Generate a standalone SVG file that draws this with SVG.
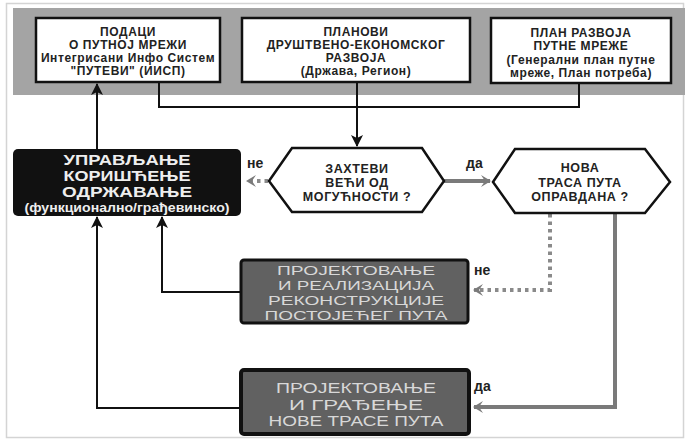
<svg xmlns="http://www.w3.org/2000/svg" width="689" height="441" viewBox="0 0 689 441">
<defs>
<style>
.top{fill:#fff;stroke:#111;stroke-width:2.5}
.tt{font-family:"Liberation Sans",Arial,sans-serif;font-weight:bold;font-size:12px;fill:#222;text-anchor:middle;letter-spacing:0.6px}
.hex{fill:#fff;stroke:#111;stroke-width:2.5}
.ht{font-family:"Liberation Sans",Arial,sans-serif;font-weight:bold;font-size:12.5px;fill:#222;text-anchor:middle;letter-spacing:0.6px}
.bt{font-family:"Liberation Sans",Arial,sans-serif;font-weight:bold;font-size:14.5px;fill:#eee;text-anchor:middle}
.gt{font-family:"Liberation Sans",Arial,sans-serif;font-size:14.5px;fill:#d8d8d8;text-anchor:middle}
.gm{font-size:13.6px}
.lbl{font-family:"Liberation Sans",Arial,sans-serif;font-weight:bold;font-size:14px;fill:#222}
.blk{fill:none;stroke:#111;stroke-width:2}
.gry{fill:none;stroke:#7a7a7a;stroke-width:4}
.dot{fill:none;stroke:#8a8a8a;stroke-width:4;stroke-dasharray:3.5,4}
</style>
<marker id="ab" viewBox="0 0 12 12" refX="11" refY="6" markerWidth="12" markerHeight="12" markerUnits="userSpaceOnUse" orient="auto">
<path d="M0,0 L12,6 L0,12 L3,6 z" fill="#111"/>
</marker>
<marker id="ag" viewBox="0 0 10 12" refX="9" refY="6" markerWidth="10" markerHeight="12" markerUnits="userSpaceOnUse" orient="auto">
<path d="M0,0 L10,6 L0,12 L4,6 z" fill="#7a7a7a"/>
</marker>
</defs>
<rect x="0" y="0" width="689" height="441" fill="#fff"/>
<rect x="6.5" y="3.5" width="677" height="434" fill="none" stroke="#d4d4d4" stroke-width="1.5"/>
<rect x="13" y="8" width="672" height="87" fill="#a4a4a4"/>

<g id="connectors">
<path class="blk" d="M159,83 V107 H579 V83"/>
<path class="blk" d="M357,83 V146" marker-end="url(#ab)"/>
<path class="blk" d="M97,149 V84" marker-end="url(#ab)"/>
<path class="blk" d="M240,292 H162 V217" marker-end="url(#ab)"/>
<path class="blk" d="M240,408 H97 V217" marker-end="url(#ab)"/>
<path class="dot" d="M268,181 H247" marker-end="url(#ag)"/>
<path class="gry" d="M444,181 H490" marker-end="url(#ag)" stroke-width="5"/>
<path class="dot" d="M550,214 V290 H474" marker-end="url(#ag)"/>
<path class="gry" d="M615,214 V407 H474" marker-end="url(#ag)"/>
<text class="lbl" x="247" y="168">не</text>
<text class="lbl" x="466" y="168">да</text>
<text class="lbl" x="474" y="275">не</text>
<text class="lbl" x="474" y="391">да</text>
</g>

<g id="n-podaci">
<rect class="top" x="36" y="18" width="184" height="64"/>
<text class="tt" x="128" y="36">ПОДАЦИ</text>
<text class="tt" x="128" y="49">О ПУТНОЈ МРЕЖИ</text>
<text class="tt" x="128" y="62">Интегрисани Инфо Систем</text>
<text class="tt" x="128" y="75">"ПУТЕВИ" (ИИСП)</text>
</g>

<g id="n-planovi">
<rect class="top" x="242" y="18" width="228" height="64"/>
<text class="tt" x="356" y="36">ПЛАНОВИ</text>
<text class="tt" x="356" y="49">ДРУШТВЕНО-ЕКОНОМСКОГ</text>
<text class="tt" x="356" y="62">РАЗВОЈА</text>
<text class="tt" x="356" y="75">(Држава, Регион)</text>
</g>

<g id="n-plan-razvoja">
<rect class="top" x="491" y="18" width="180" height="65"/>
<text class="tt" x="581" y="37">ПЛАН РАЗВОЈА</text>
<text class="tt" x="581" y="50">ПУТНЕ МРЕЖЕ</text>
<text class="tt" x="581" y="64">(Генерални план путне</text>
<text class="tt" x="581" y="77">мреже, План потреба)</text>
</g>

<g id="n-upravljanje">
<rect x="13" y="149" width="228" height="67" rx="5" fill="#111"/>
<text class="bt" x="127" y="165" textLength="127" lengthAdjust="spacingAndGlyphs">УПРАВЉАЊЕ</text>
<text class="bt" x="127" y="181" textLength="127" lengthAdjust="spacingAndGlyphs">КОРИШЋЕЊЕ</text>
<text class="bt" x="127" y="197" textLength="130" lengthAdjust="spacingAndGlyphs">ОДРЖАВАЊЕ</text>
<text class="bt" x="127" y="212" style="font-size:12.5px" textLength="205" lengthAdjust="spacingAndGlyphs">(функционално/грађевинско)</text>
</g>

<g id="n-zahtevi">
<polygon class="hex" points="269,181 292,148 422,148 444,181 422,212 292,212"/>
<text class="ht" x="357" y="172.5">ЗАХТЕВИ</text>
<text class="ht" x="357" y="186.5">ВЕЋИ ОД</text>
<text class="ht" x="357" y="200.5">МОГУЋНОСТИ ?</text>
</g>

<g id="n-nova-trasa">
<polygon class="hex" points="493,182 515,149 645,149 670,182 645,213 515,213"/>
<text class="ht" x="580" y="172">НОВА</text>
<text class="ht" x="580" y="186.5">ТРАСА ПУТА</text>
<text class="ht" x="580" y="201">ОПРАВДАНА ?</text>
</g>

<g id="n-rekonstrukcija">
<rect x="241" y="260" width="227" height="63" rx="3" fill="#616161" stroke="#111" stroke-width="3"/>
<text class="gt gm" x="356" y="274.5" textLength="158" lengthAdjust="spacingAndGlyphs">ПРОЈЕКТОВАЊЕ</text>
<text class="gt gm" x="356" y="289.8" textLength="156" lengthAdjust="spacingAndGlyphs">И РЕАЛИЗАЦИЈА</text>
<text class="gt gm" x="356" y="305.1" textLength="176" lengthAdjust="spacingAndGlyphs">РЕКОНСТРУКЦИЈЕ</text>
<text class="gt gm" x="356" y="320.4" textLength="183" lengthAdjust="spacingAndGlyphs">ПОСТОЈЕЋЕГ ПУТА</text>
</g>

<g id="n-nova-gradnja">
<rect x="241" y="370" width="228" height="64" rx="3" fill="#616161" stroke="#111" stroke-width="4"/>
<text class="gt" x="356" y="393" textLength="160" lengthAdjust="spacingAndGlyphs">ПРОЈЕКТОВАЊЕ</text>
<text class="gt" x="356" y="409.5" textLength="134" lengthAdjust="spacingAndGlyphs">И ГРАЂЕЊЕ</text>
<text class="gt" x="356" y="426" textLength="175" lengthAdjust="spacingAndGlyphs">НОВЕ ТРАСЕ ПУТА</text>
</g>
</svg>
